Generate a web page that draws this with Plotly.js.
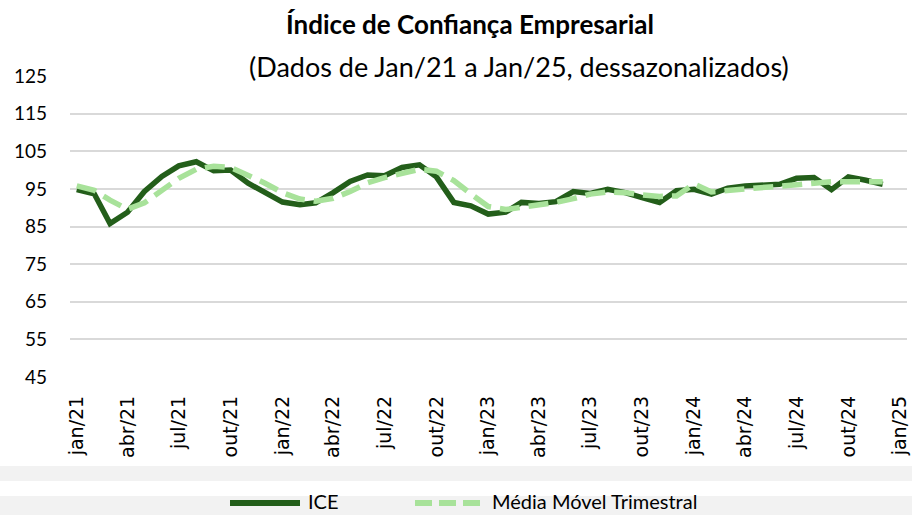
<!DOCTYPE html>
<html>
<head>
<meta charset="utf-8">
<script src="https://cdn.plot.ly/plotly-3.0.1.min.js"></script>
<style>html,body{margin:0;padding:0;background:#fff;}#chart{width:912px;height:515px;}</style>
</head>
<body>
<div id="chart"></div>
<script>
const months = ["2021-01-01","2021-02-01","2021-03-01","2021-04-01","2021-05-01","2021-06-01","2021-07-01","2021-08-01","2021-09-01","2021-10-01","2021-11-01","2021-12-01",
"2022-01-01","2022-02-01","2022-03-01","2022-04-01","2022-05-01","2022-06-01","2022-07-01","2022-08-01","2022-09-01","2022-10-01","2022-11-01","2022-12-01",
"2023-01-01","2023-02-01","2023-03-01","2023-04-01","2023-05-01","2023-06-01","2023-07-01","2023-08-01","2023-09-01","2023-10-01","2023-11-01","2023-12-01",
"2024-01-01","2024-02-01","2024-03-01","2024-04-01","2024-05-01","2024-06-01","2024-07-01","2024-08-01","2024-09-01","2024-10-01","2024-11-01","2024-12-01"];
const ice = [94.8,93.7,85.8,88.8,94.3,98.3,101.1,102.2,99.8,100.0,96.5,94.0,
91.5,90.8,91.3,94.0,97.0,98.7,98.5,100.7,101.4,98.2,91.4,90.5,
88.3,88.8,91.4,91.1,91.6,94.3,93.8,94.9,94.0,92.7,91.4,94.5,
94.9,93.6,95.2,95.8,96.1,96.2,97.8,98.0,94.8,98.2,97.3,96.2];
const mediaMovel = [95.8,94.6,92.0,89.6,91.3,94.8,97.8,100.2,101.0,100.7,98.7,96.5,
94.0,92.3,91.7,92.5,94.3,96.6,98.0,99.2,100.2,99.7,97.2,93.7,
90.3,89.5,90.0,90.6,91.4,92.4,93.6,94.2,94.0,93.4,93.0,93.1,
96.3,94.2,94.6,94.8,95.2,95.6,96.1,96.7,96.9,96.9,96.9,96.9];
const tickDates = ["2021-01-01","2021-04-01","2021-07-01","2021-10-01","2022-01-01","2022-04-01","2022-07-01","2022-10-01","2023-01-01","2023-04-01","2023-07-01","2023-10-01","2024-01-01","2024-04-01","2024-07-01","2024-10-01","2025-01-01"];
const tickLabels = ["jan/21","abr/21","jul/21","out/21","jan/22","abr/22","jul/22","out/22","jan/23","abr/23","jul/23","out/23","jan/24","abr/24","jul/24","out/24","jan/25"];
const yTicks = [45,55,65,75,85,95,105,115,125];
const seriesNames = ["ICE", "Média Móvel Trimestral"];
const colors = ["#235e1a", "#a8e29a"];

const traces = [
  {x: months, y: ice, name: seriesNames[0], type: "scatter", mode: "lines",
   line: {color: colors[0], width: 5.5}},
  {x: months, y: mediaMovel, name: seriesNames[1], type: "scatter", mode: "lines",
   line: {color: colors[1], width: 5.5, dash: "20px,9px"}}
];

// pixel helpers for paper coords (plot area: left 70, width 837, bottom 377, height 301)
const px = v => (v - 70) / 837;
const py = v => (377 - v) / 301;

const layout = {
  width: 912, height: 515,
  paper_bgcolor: "#ffffff", plot_bgcolor: "#ffffff",
  margin: {l: 70, r: 5, t: 76, b: 138, autoexpand: false},
  font: {family: "Lato, 'Noto Sans', sans-serif", color: "#000000"},
  title: {text: "<b>Índice de Confiança Empresarial</b>", font: {family: "Lato, sans-serif", size: 26, color: "#000"},
          x: 470/912, xanchor: "center", xref: "container", y: 1 - 25/515, yanchor: "middle", yref: "container"},
  annotations: [
    {text: "(Dados de Jan/21 a Jan/25, dessazonalizados)", xref: "paper", yref: "paper",
     x: px(519), y: py(66), xanchor: "center", yanchor: "middle", showarrow: false,
     font: {family: "Lato, sans-serif", size: 27, color: "#000"}},
    {text: seriesNames[0], xref: "paper", yref: "paper", x: px(306), y: py(501), xanchor: "left", yanchor: "middle",
     showarrow: false, font: {family: "Lato, sans-serif", size: 20, color: "#000"}},
    {text: seriesNames[1], xref: "paper", yref: "paper", x: px(490), y: py(501), xanchor: "left", yanchor: "middle",
     showarrow: false, font: {family: "Lato, sans-serif", size: 20, color: "#000"}}
  ],
  xaxis: {type: "date", range: ["2020-12-20", "2025-01-13"], tickvals: tickDates, ticktext: tickLabels,
          tickangle: -90, showgrid: false, zeroline: false, showline: false, ticks: "", automargin: false,
          tickfont: {family: "'DejaVu Sans', sans-serif", size: 19, color: "#000"}, ticklabelstandoff: 14},
  yaxis: {range: [45, 125], tickvals: yTicks, showgrid: true, gridcolor: "#d9d9d9", gridwidth: 2,
          zeroline: false, showline: false, ticks: "", ticklabelstandoff: 22, automargin: false,
          tickfont: {family: "Lato, sans-serif", size: 19, color: "#000"}},
  showlegend: false,
  shapes: [
    {type: "rect", xref: "paper", yref: "paper", x0: -0.1, x1: 1.1, y0: py(466), y1: py(481),
     fillcolor: "#f2f2f2", line: {width: 0}, layer: "below"},
    {type: "rect", xref: "paper", yref: "paper", x0: -0.1, x1: 1.1, y0: py(496), y1: py(520),
     fillcolor: "#f2f2f2", line: {width: 0}, layer: "below"},
    {type: "line", xref: "paper", yref: "paper", x0: px(230), x1: px(300), y0: py(503), y1: py(503),
     line: {color: colors[0], width: 6}},
    {type: "line", xref: "paper", yref: "paper", x0: px(415), x1: px(480), y0: py(503), y1: py(503),
     line: {color: colors[1], width: 6, dash: "17px,7px"}}
  ]
};

Plotly.newPlot("chart", traces, layout, {displayModeBar: false, staticPlot: true});
</script>
</body>
</html>
